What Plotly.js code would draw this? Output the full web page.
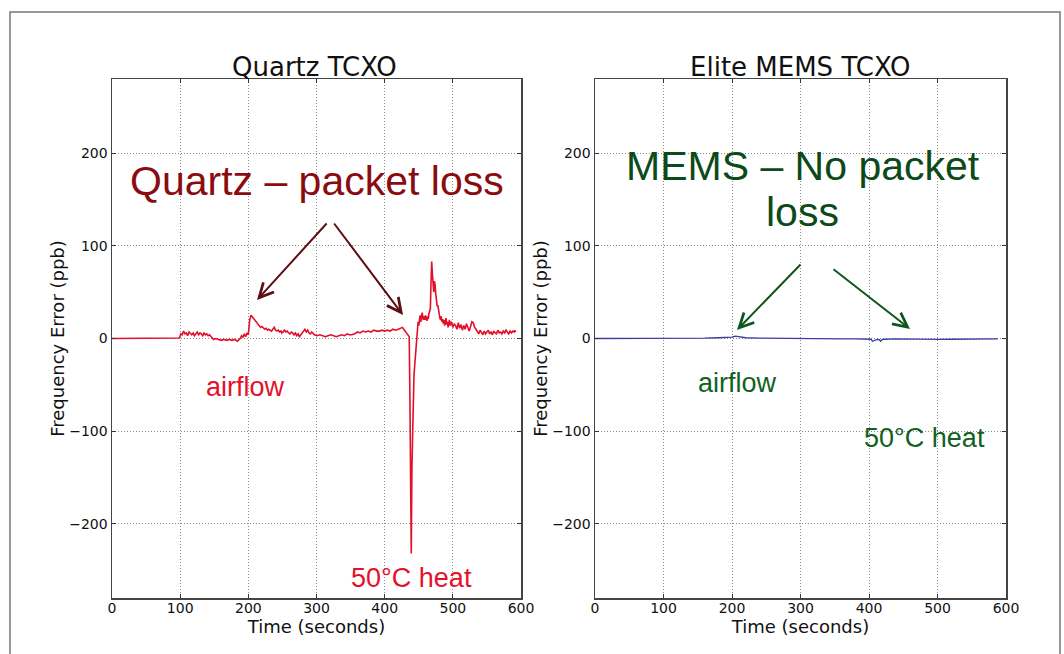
<!DOCTYPE html>
<html>
<head>
<meta charset="utf-8">
<script src="https://cdn.plot.ly/plotly-3.0.1.min.js"></script>
<style>
  html, body { margin: 0; padding: 0; background: #ffffff; }
  #chart { width: 1064px; height: 654px; }
</style>
</head>
<body>
<div id="chart"></div>
<script>
// ---- Data ----
const plotTitles = ["Quartz TCXO", "Elite MEMS TCXO"];
const xTitle = "Time (seconds)";
const yTitle = "Frequency Error (ppb)";
const xTickVals = [0, 100, 200, 300, 400, 500, 600];
const xTickText = ["0", "100", "200", "300", "400", "500", "600"];
const yTickVals = [-200, -100, 0, 100, 200];
const yTickText = ["\u2212200", "\u2212100", "0", "100", "200"];

// Quartz TCXO frequency error (ppb)
const quartzTime = [
  0, 10, 20, 30, 40, 50, 59, 69, 79, 89, 99,
  101, 103, 105, 107, 109, 111, 113, 115, 117, 119, 121, 123, 125, 127, 129,
  131, 133, 135, 137, 139, 141, 143, 145, 147, 149, 152, 156, 160, 164, 168,
  172, 176, 180, 184, 188, 190, 192, 194, 196, 198, 200, 202, 204, 206, 208,
  210, 212, 214, 216, 218, 220, 222, 224, 226, 228, 230, 232, 234, 236, 238,
  240, 242, 244, 246, 248, 249, 251, 253, 255, 257, 259, 261, 263, 265, 267,
  269, 271, 273, 275, 277, 279, 281, 283, 285, 287, 289, 291, 293, 295, 297,
  301, 305, 309, 313, 317, 321, 325, 329, 333, 337, 341, 345, 348, 352, 356,
  360, 364, 368, 372, 376, 380, 384, 388, 392, 396, 400, 404, 408, 412, 416,
  420, 424, 426, 428, 430, 432, 434, 436, 437, 438, 439, 440, 441, 442, 443,
  444, 445, 446, 447, 448, 449, 450, 451, 452, 453, 454, 455, 456, 457, 458,
  459, 460, 461, 462, 463, 464, 465, 466, 467, 468, 469, 470, 471, 472, 473,
  474, 475, 476, 477, 478, 479, 480, 481, 482, 483, 484, 485, 486, 487, 488,
  489, 490, 491, 492, 493, 494, 495, 496, 498, 500, 502, 504, 506, 508, 510,
  512, 514, 516, 518, 520, 522, 524, 526, 528, 530, 532, 534, 536, 538, 540,
  542, 544, 546, 548, 550, 552, 554, 556, 558, 560, 562, 564, 566, 568, 570,
  572, 574, 576, 578, 580, 582, 584, 586, 588, 590, 591, 592
];
const quartzError = [
  0, 0, 0, 0.3, 0, 0, 0.2, 0, 0, 0.2, 0.5,
  5, 4, 8, 5, 6, 3, 7, 5, 4, 6, 3, 5, 7, 4, 6,
  5, 3, 6, 4, 5, 3, 4, 2, 1, -1, 0, -1, -2, -1, -2,
  -1, -2, -1, -3, 0, 3, 1, 5, 2, 6, 4, 20, 25, 23, 22,
  19, 17, 15, 14, 12, 13, 11, 10, 11, 9, 10, 9, 8, 10, 12,
  9, 8, 9, 7, 8, 6, 7, 9, 7, 8, 6, 5, 7, 6, 4,
  6, 3, 5, 2, 4, 6, 8, 10, 7, 9, 6, 5, 7, 5, 4,
  3, 4, 3, 2, 3, 4, 3, 2, 3, 4, 3, 5, 4, 4, 5,
  7, 6, 8, 7, 8, 7, 9, 8, 8, 9, 8, 9, 8, 10, 9,
  10, 11, 12, 10, 8, 6, 5, 2, -60, -160, -232, -140, -90, -60, -40,
  -30, -20, -8, 5, 12, 18, 14, 20, 25, 18, 22, 28, 22, 20, 24,
  20, 25, 22, 19, 24, 21, 27, 30, 32, 60, 83, 70, 55, 50, 62,
  58, 48, 40, 35, 36, 30, 28, 22, 20, 24, 18, 21, 16, 20, 14,
  19, 22, 15, 18, 12, 17, 20, 14, 18, 12, 16, 14, 10, 17, 11,
  15, 9, 14, 10, 16, 12, 8, 13, 18, 17, 12, 10, 8, 5, 9,
  6, 4, 8, 5, 7, 9, 5, 7, 4, 8, 6, 5, 9, 6, 7,
  5, 8, 6, 9, 7, 5, 8, 6, 8, 7, 9, 7
];

// Elite MEMS TCXO frequency error (ppb)
const memsTime = [
  0, 20, 40, 60, 80, 100, 120, 140, 160, 180, 190, 200, 205, 210, 215,
  220, 240, 260, 280, 300, 320, 340, 360, 380, 395, 400, 403, 405, 407, 409,
  412, 415, 417, 419, 422, 440, 460, 480, 500, 520, 540, 560, 575, 588
];
const memsError = [
  0, 0, 0.2, 0, -0.2, 0, 0.3, 0.5, 0.3, 0.8, 1, 1.5, 2.5, 1.8, 1,
  0.8, 0.5, 0.3, 0, -0.5, -0.8, -0.7, -0.5, -0.3, -0.3, -0.5, -0.8, -3, -2.5, -1.2,
  -1, -1.3, -3, -1.2, -0.8, -0.5, -0.8, -1, -1, -0.8, -0.7, -0.6, -0.5, -0.5
];

// ---- Layout helpers (pixel -> paper) ----
const W = 1064, H = 654;
const px = v => v / W;
const py = v => 1 - v / H;

const axisFont = { family: "DejaVu Sans, sans-serif", size: 14, color: "#111" };
const titleFont = { family: "DejaVu Sans, sans-serif", size: 18, color: "#111" };

function xAxis(domain, anchor) {
  return {
    domain: domain, anchor: anchor, range: [0, 600],
    tickmode: "array", tickvals: xTickVals, ticktext: xTickText,
    ticks: "inside", ticklen: 4, tickcolor: "#333", mirror: "ticks",
    showline: true, linecolor: "#444", linewidth: 1.5,
    showgrid: true, gridcolor: "#8c8c8c", griddash: "1px,2px", gridwidth: 1,
    zeroline: false, tickfont: axisFont, ticklabelstandoff: -3,
    title: { text: xTitle, font: titleFont, standoff: 0 }
  };
}
function yAxis(domain, anchor) {
  return {
    domain: domain, anchor: anchor, range: [-280, 280],
    tickmode: "array", tickvals: yTickVals, ticktext: yTickText,
    ticks: "inside", ticklen: 4, tickcolor: "#333", mirror: "ticks",
    showline: true, linecolor: "#444", linewidth: 1.5,
    showgrid: true, gridcolor: "#8c8c8c", griddash: "1px,2px", gridwidth: 1,
    zeroline: false, tickfont: axisFont,
    title: { text: yTitle, font: titleFont, standoff: 0 }
  };
}

const yDom = [py(598), py(79)];

const traces = [
  { x: quartzTime, y: quartzError, xaxis: "x", yaxis: "y", type: "scatter",
    mode: "lines", line: { color: "#e3102b", width: 1.6 }, name: "Quartz TCXO" },
  { x: memsTime, y: memsError, xaxis: "x2", yaxis: "y2", type: "scatter",
    mode: "lines", line: { color: "#3c3ca6", width: 1.3 }, name: "Elite MEMS TCXO" }
];

const big = { family: "Liberation Sans, Arial, sans-serif", size: 41 };
const small = { family: "Liberation Sans, Arial, sans-serif", size: 27 };
const quartzDark = "#8a0c10";
const quartzRed = "#e3122c";
const memsDark = "#0c4a1a";
const memsGreen = "#11611f";

function txt(text, x, y, font, color) {
  return { text: text, x: px(x), y: py(y), xref: "paper", yref: "paper",
           xanchor: "center", yanchor: "middle", showarrow: false,
           font: Object.assign({}, font, { color: color }) };
}
function arrow(tx, ty, hx, hy, color) {
  return { text: "", x: px(hx), y: py(hy), xref: "paper", yref: "paper",
           ax: tx - hx, ay: ty - hy, showarrow: true, arrowhead: 5,
           arrowsize: 1.4, arrowwidth: 2, arrowcolor: color, standoff: 0, startstandoff: 0 };
}

const annotations = [
  { text: plotTitles[0], x: px(314), y: py(84), xref: "paper", yref: "paper",
    xanchor: "center", yanchor: "bottom", showarrow: false,
    font: { family: "DejaVu Sans, sans-serif", size: 26, color: "#111" } },
  { text: plotTitles[1], x: px(800.5), y: py(84), xref: "paper", yref: "paper",
    xanchor: "center", yanchor: "bottom", showarrow: false,
    font: { family: "DejaVu Sans, sans-serif", size: 26, color: "#111" } },
  txt("Quartz \u2013 packet loss", 316.5, 181, big, quartzDark),
  arrow(328, 222, 257, 300, "#5c0e12"),
  arrow(333, 222, 403, 315, "#5c0e12"),
  txt("airflow", 245, 387, small, quartzRed),
  txt("50\u00b0C heat", 411, 578, small, quartzRed),
  txt("MEMS \u2013 No packet", 802.5, 166, big, memsDark),
  txt("loss", 802.5, 212, big, memsDark),
  arrow(802, 263, 737, 330, "#0e561e"),
  arrow(832, 268, 910, 329, "#0e561e"),
  txt("airflow", 737, 383, small, memsGreen),
  txt("50\u00b0C heat", 924, 438, small, memsGreen)
];

const layout = {
  width: W, height: H,
  margin: { l: 0, r: 0, t: 0, b: 0 },
  paper_bgcolor: "#ffffff", plot_bgcolor: "#ffffff",
  showlegend: false,
  xaxis: xAxis([px(112), px(521)], "y"),
  yaxis: yAxis(yDom, "x"),
  xaxis2: xAxis([px(595), px(1006)], "y2"),
  yaxis2: yAxis(yDom, "x2"),
  annotations: annotations,
  shapes: [
    { type: "rect", xref: "paper", yref: "paper",
      x0: px(10), x1: px(1060), y0: -0.05, y1: py(12),
      line: { color: "#777", width: 1.5 }, fillcolor: "rgba(0,0,0,0)", layer: "below" }
  ]
};

Plotly.newPlot("chart", traces, layout, { staticPlot: true, displayModeBar: false });
</script>
</body>
</html>
